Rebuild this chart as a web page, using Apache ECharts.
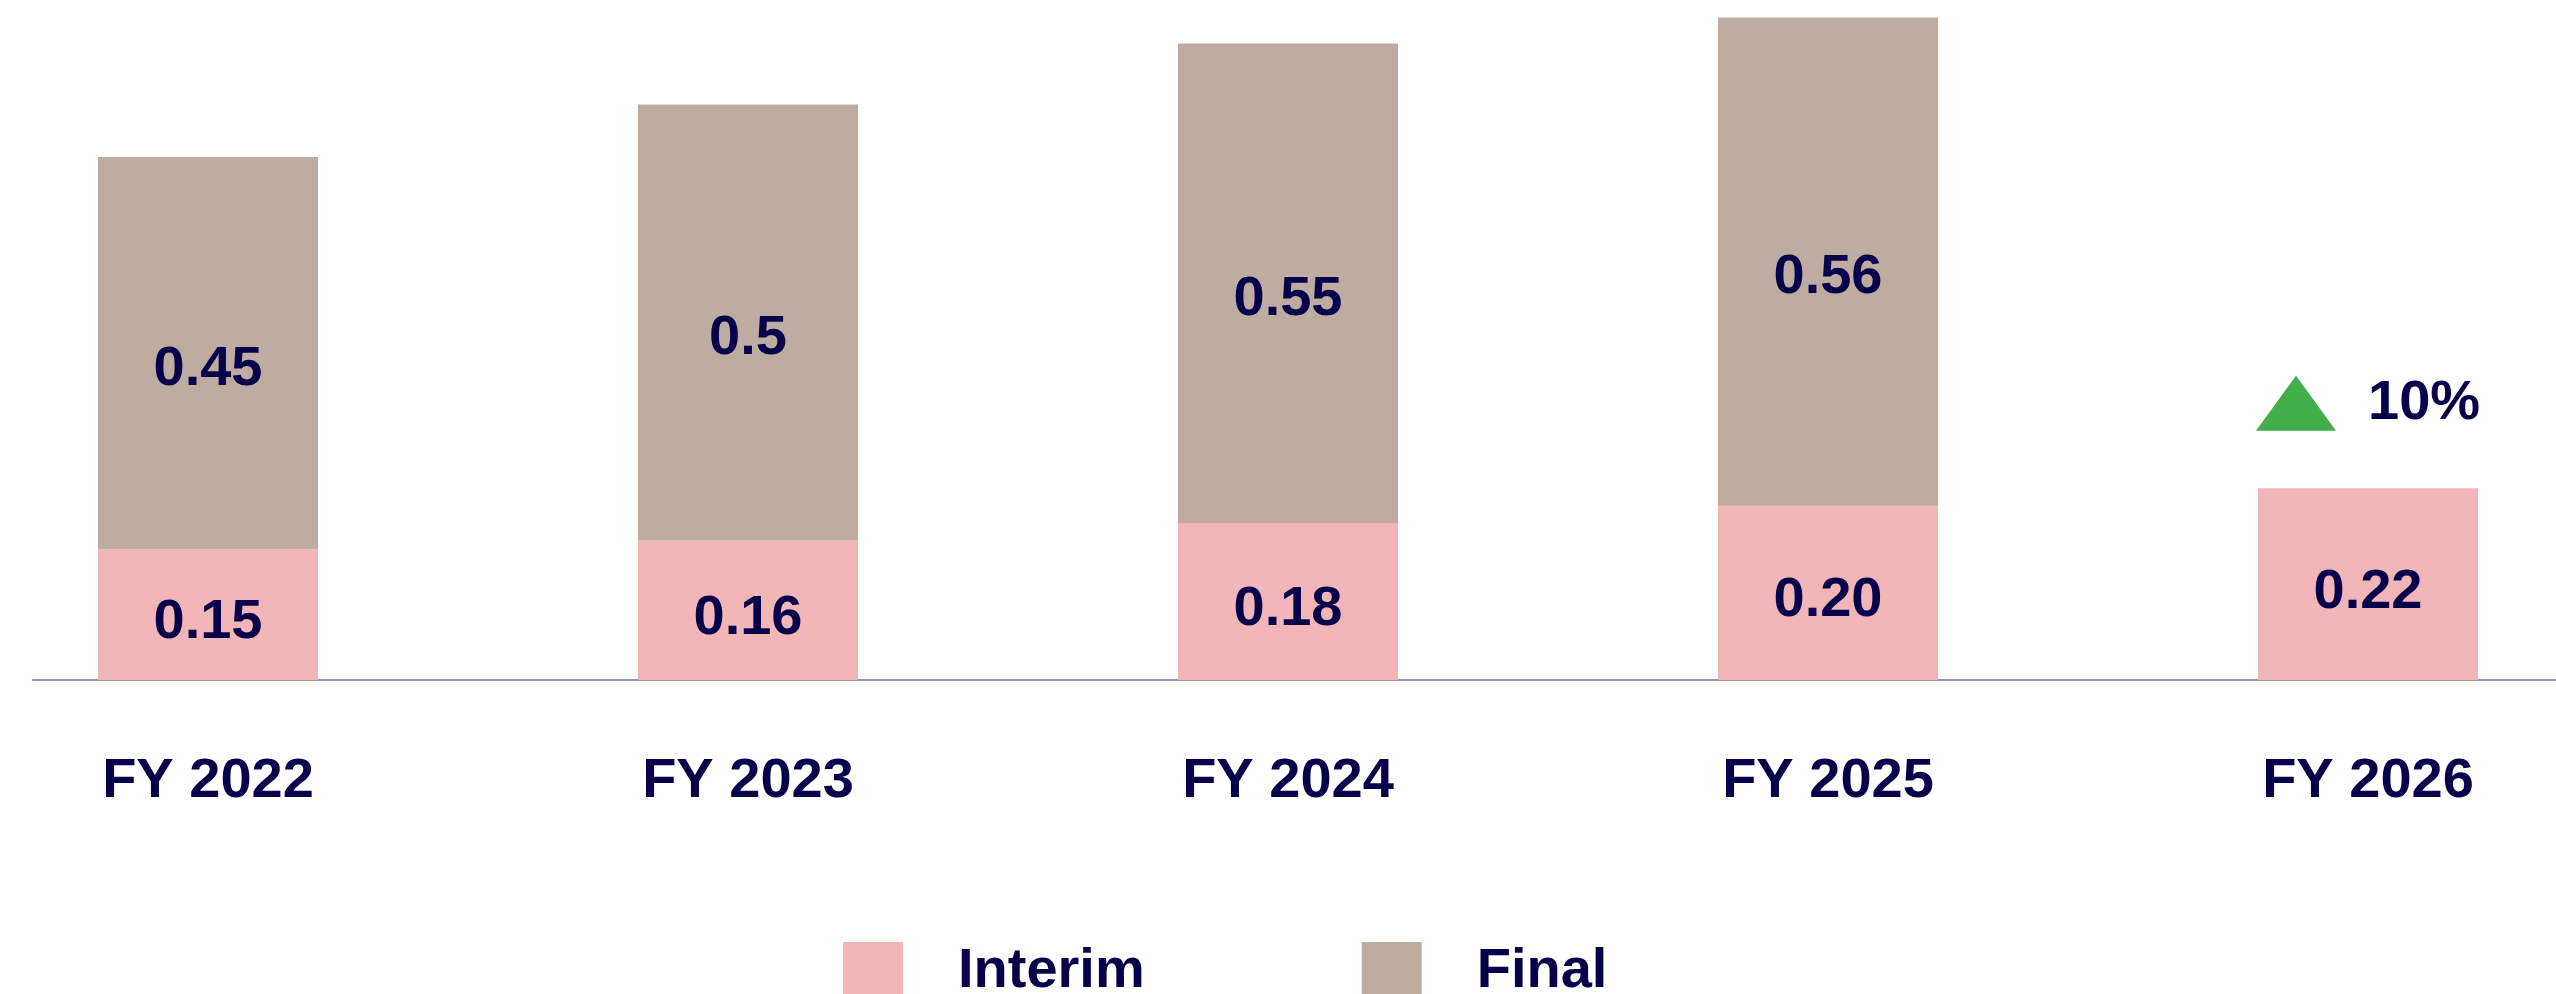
<!DOCTYPE html>
<html>
<head>
<meta charset="utf-8">
<title>Dividend per share</title>
<script src="https://cdn.jsdelivr.net/npm/echarts@6/dist/echarts.min.js"></script>
<style>
  html, body { margin: 0; padding: 0; background: #fff; }
  #chart { width: 2556px; height: 994px; }
</style>
</head>
<body>
<div id="chart"></div>
<script>
const categories = ['FY 2022', 'FY 2023', 'FY 2024', 'FY 2025', 'FY 2026']
const interim = [0.15, 0.16, 0.18, 0.20, 0.22]
const final = [0.45, 0.5, 0.55, 0.56, null]
const growthLabel = '10%'

const navy = '#07004a'
const font = '"Liberation Sans", Arial, sans-serif'

const chart = echarts.init(document.getElementById('chart'))

chart.setOption({
  animation: false,
  textStyle: { fontFamily: font },
  legend: {
    data: ['Interim', 'Final'],
    left: 838,
    top: 937,
    itemWidth: 60,
    itemHeight: 60,
    itemGap: 217,
    icon: 'rect',
    textStyle: {
      color: navy,
      fontSize: 56,
      fontWeight: 'bold',
      fontFamily: font,
      padding: [0, 0, 0, 50]
    }
  },
  grid: [
    // bars, band wider than the canvas
    { left: -62, width: 2700, top: 0, bottom: 314, outerBoundsMode: 'none', containLabel: false },
    // baseline only
    { left: 33, right: 0, top: 0, bottom: 314, outerBoundsMode: 'none', containLabel: false }
  ],
  xAxis: [{
    type: 'category',
    gridIndex: 0,
    data: categories,
    axisLine: { show: false },
    axisTick: { show: false },
    axisLabel: {
      color: navy,
      fontSize: 56,
      fontWeight: 'bold',
      fontFamily: font,
      margin: 74
    }
  }, {
    type: 'value',
    gridIndex: 1,
    min: 0,
    max: 1,
    axisLine: { show: true, lineStyle: { color: '#9995aa', width: 2 } },
    axisTick: { show: false },
    axisLabel: { show: false },
    splitLine: { show: false }
  }],
  yAxis: [{
    type: 'value',
    gridIndex: 0,
    min: 0,
    max: 0.78,
    show: false
  }, {
    type: 'value',
    gridIndex: 1,
    min: 0,
    max: 1,
    show: false
  }],
  series: [{
    name: 'Interim',
    type: 'bar',
    stack: 'dps',
    barWidth: 220,
    data: interim,
    itemStyle: { color: '#f2b6b8' },
    label: {
      show: true,
      position: 'inside',
      offset: [0, 8],
      formatter: p => p.value.toFixed(2),
      color: navy,
      fontSize: 56,
      fontWeight: 'bold',
      fontFamily: font
    },
    markPoint: {
      silent: true,
      data: [{
        coord: [categories[4], interim[4]],
        symbol: 'triangle',
        symbolSize: [80, 55],
        symbolOffset: [-72, -85],
        itemStyle: { color: '#41ad4b' },
        label: {
          show: true,
          position: 'right',
          distance: 32,
          formatter: growthLabel,
          color: navy,
          fontSize: 56,
          fontWeight: 'bold',
          fontFamily: font
        }
      }]
    }
  }, {
    name: 'Final',
    type: 'bar',
    stack: 'dps',
    barWidth: 220,
    data: final,
    itemStyle: { color: '#bfaca1' },
    label: {
      show: true,
      position: 'inside',
      offset: [0, 16],
      formatter: p => String(p.value),
      color: navy,
      fontSize: 56,
      fontWeight: 'bold',
      fontFamily: font
    }
  }]
})
</script>
</body>
</html>
